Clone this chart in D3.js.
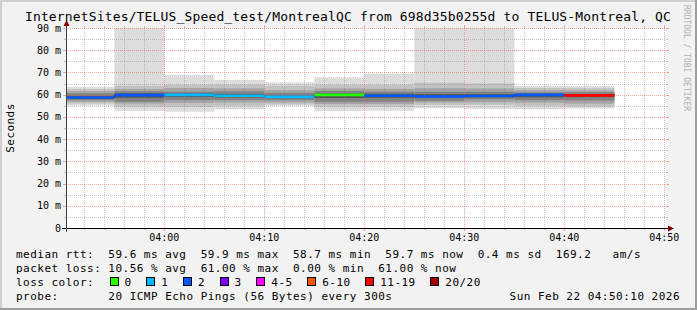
<!DOCTYPE html>
<html>
<head>
<meta charset="utf-8">
<script src="https://cdn.jsdelivr.net/npm/d3@7"></script>
<style>
    html, body { margin: 0; padding: 0; background: #f2f2f2; }
    svg { display: block; }
    text { font-family: "DejaVu Sans Mono", monospace; fill: #000; white-space: pre; }
</style>
</head>
<body>
<div id="vis"></div>
<script>

// Chart data ----------------------------------------------------------------

const TITLE = "InternetSites/TELUS_Speed_test/MontrealQC from 698d35b0255d to TELUS-Montreal, QC";
const Y_LABEL = "Seconds";
const WATERMARK = "RRDTOOL / TOBI OETIKER";

const timeStart = "03:50:10";
const timeEnd = "04:50:10";

// End of each 5 minute step
const stepEnds = ["03:55", "04:00", "04:05", "04:10", "04:15", "04:20",
    "04:25", "04:30", "04:35", "04:40", "04:45"];

// Median rtt per step (ms)
const medianRtt = [58.7, 59.8, 59.9, 59.5, 59.0, 59.9, 59.5, 59.2, 59.4, 59.9, 59.7];

// Lost pings per step (out of 20)
const lossCount = [2, 2, 1, 1, 1, 0, 2, 2, 2, 2, 12];

// Sorted ping sample per step (ms), outermost pair first and last
const pingSpread = [
    [55.0, 56.0, 56.8, 57.5, 58.2, 59.3, 60.6, 61.6, 62.5, 63.5],
    [52.7, 54.6, 56.0, 56.8, 58.6, 60.6, 61.5, 62.5, 64.0, 95.0],
    [52.3, 54.6, 56.3, 57.6, 59.0, 60.6, 61.3, 63.0, 64.4, 68.9],
    [53.4, 55.0, 56.5, 57.6, 58.8, 60.3, 61.5, 62.8, 64.5, 66.6],
    [54.9, 55.6, 56.5, 57.6, 58.4, 59.6, 60.8, 62.0, 64.0, 65.5],
    [52.6, 54.6, 55.8, 56.8, 58.5, 60.6, 61.6, 62.8, 64.4, 67.8],
    [52.8, 54.6, 55.8, 56.8, 58.6, 60.4, 61.3, 62.6, 64.4, 69.5],
    [53.9, 55.4, 56.5, 57.3, 58.6, 60.2, 61.3, 62.9, 65.4, 95.0],
    [53.6, 55.4, 56.6, 57.9, 58.8, 60.2, 61.3, 62.8, 65.1, 95.0],
    [53.4, 55.0, 56.4, 57.6, 58.8, 60.4, 61.0, 62.0, 63.0, 64.0],
    [53.8, 54.8, 56.0, 57.4, 58.9, 60.3, 61.1, 61.9, 62.9, 63.9]
];

const yTicks = [0, 10, 20, 30, 40, 50, 60, 70, 80, 90];
const yMinorTicks = [5, 15, 25, 35, 45, 55, 65, 75, 85];
const xTicks = ["04:00", "04:10", "04:20", "04:30", "04:40", "04:50"];

const lossLabels = ["0", "1", "2", "3", "4-5", "6-10", "11-19", "20/20"];
const lossLimits = [0, 1, 2, 3, 5, 10, 19, 20];
const lossColors = ["#26ff00", "#00b8ff", "#0059ff", "#7e00ff",
    "#ff00ff", "#ff5500", "#ff0000", "#a10000"];

const rttStats = ["59.6", "59.9", "58.7", "59.7", "0.4", "169.2"];
const lossStats = ["10.56", "61.00", "0.00", "61.00"];
const probeText = "20 ICMP Echo Pings (56 Bytes) every 300s";
const stampText = "Sun Feb 22 04:50:10 2026";

// Layout --------------------------------------------------------------------

const W = 697;
const H = 310;
const plot = {left: 66, top: 28, width: 600, height: 200};
const charW = 7.1;

const smokeGrays = ["#dcdcdc", "#c2c2c2", "#a4a4a4", "#828282", "#575757"];
const gridColor = "rgba(130,130,130,0.45)";
const mgridColor = "rgba(235,60,60,0.45)";

const parseSec = d3.timeParse("%H:%M:%S");
const parseMin = d3.timeParse("%H:%M");

const xscale = d3.scaleTime()
    .domain([parseSec(timeStart), parseSec(timeEnd)])
    .range([plot.left, plot.left + plot.width]);

const yscale = d3.scaleLinear()
    .domain([0, 90])
    .range([plot.top + plot.height, plot.top]);

const px = v => Math.round(v) + 0.5;

const svg = d3.select("#vis")
    .append("svg")
    .attr("width", W)
    .attr("height", H);

// Background and shaded frame
svg.append("rect").attr("width", W).attr("height", H).attr("fill", "#f2f2f2");
svg.append("path")
    .attr("d", `M0,0H${W}V2H2V${H}H0Z`)
    .attr("fill", "#cfcfcf");
svg.append("path")
    .attr("d", `M${W},${H}H0V${H - 2}H${W - 2}V0H${W}Z`)
    .attr("fill", "#9e9e9e");

// Canvas
svg.append("rect")
    .attr("x", plot.left).attr("y", plot.top)
    .attr("width", plot.width).attr("height", plot.height)
    .attr("fill", "#fff");

svg.append("clipPath").attr("id", "plotclip")
    .append("rect")
    .attr("x", plot.left).attr("y", plot.top)
    .attr("width", plot.width).attr("height", plot.height);

// Steps with pixel extents
const steps = stepEnds.map((s, i) => {
    const t1 = parseMin(s);
    const t0 = d3.timeMinute.offset(t1, -5);
    return {
        x0: Math.max(xscale(t0), plot.left),
        x1: xscale(t1),
        median: medianRtt[i],
        loss: lossCount[i],
        pings: pingSpread[i]
    };
});

// Smoke -------------------------------------------------------------------

const smoke = svg.append("g").attr("clip-path", "url(#plotclip)");

steps.forEach(d => {
    const n = d.pings.length;
    smokeGrays.forEach((c, k) => {
        const lo = d.pings[k];
        const hi = d.pings[n - 1 - k];
        smoke.append("rect")
            .attr("x", d.x0)
            .attr("width", d.x1 - d.x0)
            .attr("y", yscale(hi))
            .attr("height", yscale(lo) - yscale(hi))
            .attr("fill", c);
    });
});

// Grid ----------------------------------------------------------------------

const grid = svg.append("g");
const yTop = plot.top;
const yBottom = plot.top + plot.height;
const xLeft = plot.left;
const xRight = plot.left + plot.width;

const majorTimes = xTicks.map(parseMin);
const minorTimes = d3.timeMinute.every(2)
    .range(parseSec(timeStart), parseSec(timeEnd))
    .filter(t => t.getMinutes() % 10 !== 0);

function vline(x, color, tick) {
    grid.append("line")
        .attr("x1", x).attr("x2", x).attr("y1", yTop).attr("y2", yBottom)
        .attr("stroke", color).attr("stroke-dasharray", "1,1");
    grid.append("line")
        .attr("x1", x).attr("x2", x).attr("y1", yTop - tick).attr("y2", yTop)
        .attr("stroke", color);
    grid.append("line")
        .attr("x1", x).attr("x2", x).attr("y1", yBottom).attr("y2", yBottom + tick)
        .attr("stroke", color);
}

function hline(y, color, tick) {
    grid.append("line")
        .attr("x1", xLeft).attr("x2", xRight).attr("y1", y).attr("y2", y)
        .attr("stroke", color).attr("stroke-dasharray", "1,1");
    grid.append("line")
        .attr("x1", xLeft - tick).attr("x2", xLeft).attr("y1", y).attr("y2", y)
        .attr("stroke", color);
    grid.append("line")
        .attr("x1", xRight).attr("x2", xRight + tick).attr("y1", y).attr("y2", y)
        .attr("stroke", color);
}

minorTimes.forEach(t => vline(px(xscale(t)), gridColor, 2));
yMinorTicks.forEach(v => hline(px(yscale(v)), gridColor, 2));
majorTimes.forEach(t => vline(px(xscale(t)), mgridColor, 3));
yTicks.filter(v => v > 0).forEach(v => hline(px(yscale(v)), mgridColor, 3));

// Median line -------------------------------------------------------------

const medPts = [];
steps.forEach(d => medPts.push([d.x0, yscale(d.median)]));
medPts.push([steps[steps.length - 1].x1, yscale(steps[steps.length - 1].median)]);

svg.append("path")
    .attr("d", d3.line().curve(d3.curveStepAfter)(medPts))
    .attr("fill", "none")
    .attr("stroke", "#202020")
    .attr("stroke-width", 1);

function lossColor(n) {
    const i = lossLimits.findIndex(l => n <= l);
    return lossColors[i];
}

svg.append("g")
    .selectAll("line")
    .data(steps)
    .enter()
    .append("line")
    .attr("x1", d => d.x0)
    .attr("x2", d => d.x1)
    .attr("y1", d => yscale(d.median))
    .attr("y2", d => yscale(d.median))
    .attr("stroke", d => lossColor(d.loss))
    .attr("stroke-width", 2.6);

// Axes ----------------------------------------------------------------------

svg.append("line")
    .attr("x1", xLeft - 4).attr("x2", xRight + 3)
    .attr("y1", yBottom + 0.5).attr("y2", yBottom + 0.5)
    .attr("stroke", "#000");
svg.append("path")
    .attr("d", `M${xRight + 2},${yBottom - 2.5}L${xRight + 8},${yBottom + 0.5}L${xRight + 2},${yBottom + 3.5}Z`)
    .attr("fill", "#7f0000");

svg.append("line")
    .attr("x1", xLeft + 0.5).attr("x2", xLeft + 0.5)
    .attr("y1", yBottom + 4).attr("y2", yTop - 3)
    .attr("stroke", "#404040");
svg.append("path")
    .attr("d", `M${xLeft - 2.5},${yTop - 2}L${xLeft + 0.5},${yTop - 8}L${xLeft + 3.5},${yTop - 2}Z`)
    .attr("fill", "#7f0000");

// Axis labels
svg.append("g")
    .selectAll("text")
    .data(yTicks)
    .enter()
    .append("text")
    .attr("x", xLeft - 5)
    .attr("y", d => yscale(d))
    .attr("dy", "0.36em")
    .attr("text-anchor", "end")
    .style("font-size", "10px")
    .text(d => d === 0 ? "0" : `${d} m`);

svg.append("g")
    .selectAll("text")
    .data(xTicks)
    .enter()
    .append("text")
    .attr("x", d => xscale(parseMin(d)))
    .attr("y", 241)
    .attr("text-anchor", "middle")
    .style("font-size", "10px")
    .text(d => d);

svg.append("text")
    .attr("transform", `translate(14,${(yTop + yBottom) / 2}) rotate(-90)`)
    .attr("text-anchor", "middle")
    .style("font-size", "11px")
    .style("letter-spacing", "0.45px")
    .text(Y_LABEL);

// Title and watermark
svg.append("text")
    .attr("x", 348)
    .attr("y", 21)
    .attr("text-anchor", "middle")
    .style("font-size", "13px")
    .style("letter-spacing", "0.15px")
    .text(TITLE);

svg.append("text")
    .attr("transform", "translate(684,5) rotate(90)")
    .style("font-size", "8px")
    .style("fill", "#b0b0b0")
    .text(WATERMARK);

// Legend --------------------------------------------------------------------

const legend = svg.append("g")
    .style("font-size", "11px")
    .style("letter-spacing", "0.48px");

const legendLines = [
    `median rtt:  ${rttStats[0]} ms avg  ${rttStats[1]} ms max  ${rttStats[2]} ms min  ${rttStats[3]} ms now  ${rttStats[4]} ms sd  ${rttStats[5]}   am/s`,
    `packet loss: ${lossStats[0]} % avg  ${lossStats[1]} % max  ${lossStats[2]} % min  ${lossStats[3]} % now`,
    "loss color:",
    `probe:       ${probeText}`
];

legendLines.forEach((s, i) => {
    legend.append("text")
        .attr("x", 16)
        .attr("y", 257.5 + i * 14)
        .text(s);
});

legend.append("text")
    .attr("x", 680)
    .attr("y", 257.5 + 3 * 14)
    .attr("text-anchor", "end")
    .text(stampText);

// Loss colour key: box, label, gap
let keyX = 109.5;
lossLabels.forEach((l, i) => {
    legend.append("rect")
        .attr("x", Math.round(keyX) + 0.5)
        .attr("y", 277.5)
        .attr("width", 8)
        .attr("height", 8)
        .attr("fill", lossColors[i])
        .attr("stroke", "#000");
    legend.append("text")
        .attr("x", keyX + 15)
        .attr("y", 257.5 + 2 * 14)
        .text(l);
    keyX += 15 + l.length * charW + 14.6;
});

</script>
</body>
</html>
